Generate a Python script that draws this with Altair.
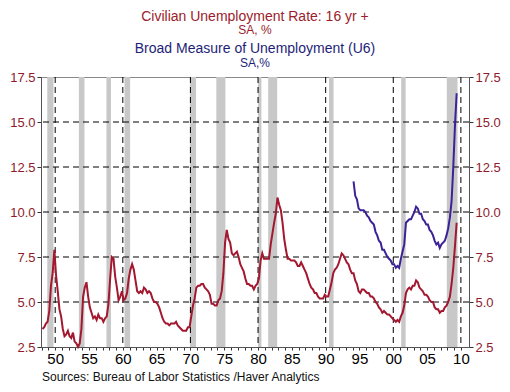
import altair as alt
import pandas as pd

# ---- data (quarterly) ----
ur_start_year = 1948
ur_values = [
    3.5, 3.6, 3.8, 3.9,   # 1948
    4.5, 5.9, 6.6, 7.9,   # 1949
    6.5, 5.6, 4.6, 4.2,   # 1950
    3.5, 3.1, 3.2, 3.4,   # 1951
    3.1, 3.0, 3.3, 2.8,   # 1952
    2.7, 2.5, 2.7, 3.5,   # 1953
    5.3, 5.8, 6.1, 5.3,   # 1954
    4.7, 4.4, 4.1, 4.2,   # 1955
    4.0, 4.3, 4.1, 4.1,   # 1956
    3.9, 4.1, 4.2, 4.9,   # 1957
    6.3, 7.5, 7.4, 6.4,   # 1958
    5.8, 5.1, 5.3, 5.6,   # 1959
    5.1, 5.2, 5.5, 6.3,   # 1960
    6.8, 7.1, 6.8, 6.2,   # 1961
    5.6, 5.5, 5.6, 5.5,   # 1962
    5.8, 5.7, 5.5, 5.6,   # 1963
    5.5, 5.2, 5.0, 5.0,   # 1964
    4.9, 4.7, 4.4, 4.1,   # 1965
    3.9, 3.8, 3.8, 3.7,   # 1966
    3.8, 3.8, 3.8, 3.9,   # 1967
    3.7, 3.6, 3.5, 3.4,   # 1968
    3.4, 3.4, 3.6, 3.6,   # 1969
    4.2, 4.8, 5.2, 5.8,   # 1970
    5.9, 5.9, 6.0, 6.0,   # 1971
    5.8, 5.7, 5.6, 5.4,   # 1972
    4.9, 4.9, 4.8, 4.8,   # 1973
    5.1, 5.2, 5.6, 6.6,   # 1974
    8.3, 9.0, 8.5, 8.3,   # 1975
    7.7, 7.6, 7.7, 7.8,   # 1976
    7.5, 7.1, 6.9, 6.7,   # 1977
    6.3, 6.0, 6.0, 5.9,   # 1978
    5.9, 5.7, 5.9, 6.0,   # 1979
    6.3, 7.3, 7.7, 7.4,   # 1980
    7.4, 7.4, 7.4, 8.2,   # 1981
    8.8, 9.4, 9.9, 10.8,  # 1982
    10.4, 10.1, 9.4, 8.5, # 1983
    7.9, 7.4, 7.4, 7.3,   # 1984
    7.3, 7.3, 7.2, 7.0,   # 1985
    7.0, 7.2, 7.0, 6.8,   # 1986
    6.6, 6.3, 6.0, 5.8,   # 1987
    5.7, 5.5, 5.5, 5.3,   # 1988
    5.2, 5.2, 5.2, 5.4,   # 1989
    5.3, 5.3, 5.7, 6.1,   # 1990
    6.6, 6.8, 6.9, 7.1,   # 1991
    7.4, 7.7, 7.6, 7.4,   # 1992
    7.2, 7.1, 6.8, 6.6,   # 1993
    6.6, 6.2, 6.0, 5.6,   # 1994
    5.5, 5.7, 5.7, 5.6,   # 1995
    5.5, 5.5, 5.3, 5.3,   # 1996
    5.2, 5.0, 4.9, 4.7,   # 1997
    4.6, 4.4, 4.5, 4.4,   # 1998
    4.3, 4.3, 4.2, 4.1,   # 1999
    4.0, 3.9, 4.0, 3.9,   # 2000
    4.2, 4.4, 4.8, 5.5,   # 2001
    5.7, 5.8, 5.7, 5.9,   # 2002
    5.9, 6.2, 6.1, 5.8,   # 2003
    5.7, 5.6, 5.4, 5.4,   # 2004
    5.3, 5.1, 5.0, 5.0,   # 2005
    4.7, 4.6, 4.6, 4.4,   # 2006
    4.5, 4.5, 4.7, 4.8,   # 2007
    5.0, 5.3, 6.0, 6.9,   # 2008
    8.1, 9.4,             # 2009
]

u6_start_year = 1994
u6_values = [
    11.7, 10.9, 10.7, 10.2,  # 1994
    10.1, 10.1, 10.1, 10.0,  # 1995
    9.8, 9.7, 9.5, 9.4,      # 1996
    9.3, 8.9, 8.7, 8.4,      # 1997
    8.3, 7.9, 7.9, 7.7,      # 1998
    7.5, 7.4, 7.3, 7.1,      # 1999
    7.1, 6.9, 7.0, 6.9,      # 2000
    7.4, 7.8, 8.2, 9.4,      # 2001
    9.5, 9.6, 9.6, 9.8,      # 2002
    10.0, 10.3, 10.2, 9.9,   # 2003
    9.9, 9.6, 9.5, 9.3,      # 2004
    9.3, 9.0, 8.9, 8.7,      # 2005
    8.4, 8.2, 8.3, 8.0,      # 2006
    8.2, 8.3, 8.4, 8.7,      # 2007
    9.1, 9.7, 10.6, 12.5,    # 2008
    14.8, 16.6,              # 2009
]

rec_start = [1948.83, 1953.50, 1957.58, 1960.25, 1969.92, 1973.83, 1980.00, 1981.50, 1990.50, 2001.17, 2007.92]
rec_end   = [1949.75, 1954.33, 1958.25, 1961.08, 1970.83, 1975.17, 1980.50, 1982.83, 1991.17, 2001.83, 2009.50]

grid_years = [1950, 1960, 1970, 1980, 1990, 2000, 2010]
grid_levels = [5.0, 7.5, 10.0, 12.5, 15.0]
y_ticks = [2.5, 5.0, 7.5, 10.0, 12.5, 15.0, 17.5]
x_ticks = list(range(1948, 2011))

title_lines = ["Civilian Unemployment Rate: 16 yr +", "SA, %",
               "Broad Measure of Unemployment (U6)", "SA,%"]
source_text = "Sources:  Bureau of Labor Statistics /Haver Analytics"

# ---- frames ----
ur_df = pd.DataFrame({"date": [ur_start_year + i / 4 + 0.125 for i in range(len(ur_values))],
                      "value": ur_values})
u6_df = pd.DataFrame({"date": [u6_start_year + i / 4 + 0.125 for i in range(len(u6_values))],
                      "value": u6_values})
rec_df = pd.DataFrame({"start": rec_start, "end": rec_end})
gx_df = pd.DataFrame({"date": grid_years})
gy_df = pd.DataFrame({"value": grid_levels})

W, H = 428, 270
FONT = "Liberation Sans"
RED = "#A3172F"
BLUE = "#3B2396"
LABEL_RED = "#8E1B2C"

xscale = alt.Scale(domain=[1947.9, 2011.2], nice=False, zero=False)
yscale = alt.Scale(domain=[2.5, 17.5], nice=False, zero=False)

xaxis = alt.Axis(values=x_ticks, tickSize=3, grid=False, title=None,
                 labelExpr="datum.value % 5 == 0 ? substring(format(datum.value, 'd'), 2, 4) : ''",
                 labelOverlap=False, labelFlush=False, labelColor="black",
                 labelFontSize=15, labelFont=FONT, labelPadding=1,
                 domainColor="#555555", tickColor="#333333")

def yaxis(orient):
    return alt.Axis(orient=orient, values=y_ticks, format=".1f", tickSize=4, grid=False,
                    title=None, labelColor=LABEL_RED, labelFontSize=13, labelFont=FONT,
                    labelPadding=2, domainColor="#555555", tickColor="#333333")

rects = alt.Chart(rec_df).mark_rect(color="#C8C8C8").encode(
    x=alt.X("start:Q", scale=xscale, axis=xaxis, title=None),
    x2="end:Q",
)

vgrid = alt.Chart(gx_df).mark_rule(color="black", strokeDash=[6, 4], strokeWidth=1).encode(
    x=alt.X("date:Q", scale=xscale, axis=xaxis, title=None),
)
hgrid = alt.Chart(gy_df).mark_rule(color="black", strokeDash=[6, 4], strokeWidth=1).encode(
    y=alt.Y("value:Q", scale=yscale, axis=None),
)

ur_line = alt.Chart(ur_df).mark_line(color=RED, strokeWidth=2).encode(
    x=alt.X("date:Q", scale=xscale, axis=xaxis, title=None),
    y=alt.Y("value:Q", scale=yscale, axis=yaxis("left")),
)
u6_line = alt.Chart(u6_df).mark_line(color=BLUE, strokeWidth=2).encode(
    x=alt.X("date:Q", scale=xscale, axis=xaxis, title=None),
    y=alt.Y("value:Q", scale=yscale, axis=yaxis("right")),
)

def label(text, y, color, size, x=W / 2, align="center"):
    return alt.Chart(pd.DataFrame({"t": [text]})).mark_text(
        color=color, fontSize=size, font=FONT, align=align, baseline="middle"
    ).encode(text="t:N", x=alt.value(x), y=alt.value(y))

titles = [
    label(title_lines[0], -60, "#9B1C2C", 14),
    label(title_lines[1], -47, "#9B1C2C", 12),
    label(title_lines[2], -28, "#1E1E78", 14),
    label(title_lines[3], -14, "#1E1E78", 12),
    label(source_text, 300, "#111111", 12, x=1, align="left"),
]

chart = alt.layer(rects, vgrid, hgrid, ur_line, u6_line, *titles).resolve_axis(
    y="independent"
).properties(
    width=W, height=H,
    autosize=alt.AutoSizeParams(type="none"),
    padding={"left": 33, "top": 69, "right": 33, "bottom": 37},
    background="white",
).configure_view(stroke="#888888", strokeWidth=1)

chart.save("out.html", embed_options={"renderer": "svg", "actions": False})
